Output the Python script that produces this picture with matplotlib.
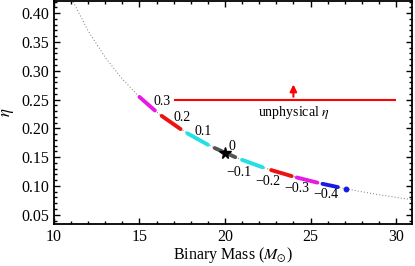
import matplotlib
matplotlib.use("Agg")
import matplotlib.pyplot as plt
from matplotlib.ticker import MultipleLocator

plt.rcParams['font.family'] = ['Liberation Serif', 'DejaVu Serif']
plt.rcParams['mathtext.fontset'] = 'stix'

# dotted reference curve
curve_mass = [11, 12, 13, 14, 15, 16, 17, 18, 19, 20, 21, 22, 23, 24, 25, 26, 27, 28, 29, 30, 31]
curve_eta = [0.4268, 0.3692, 0.3231, 0.2856, 0.2545, 0.2286, 0.2066, 0.1878, 0.1716, 0.1576,
             0.1453, 0.1344, 0.1248, 0.1163, 0.1086, 0.1018, 0.0956, 0.0899, 0.0848, 0.0802, 0.0759]

# coloured segments, one per spin value
spins = ['0.3', '0.2', '0.1', '0', '\u22120.1', '\u22120.2', '\u22120.3', '\u22120.4']
seg_mass = [(15.0, 15.9), (16.3, 17.4), (17.8, 19.0), (19.4, 20.6),
            (21.0, 22.2), (22.7, 23.9), (24.2, 25.4), (25.7, 26.6)]
seg_eta = [(0.2545, 0.2310), (0.2216, 0.1988), (0.1914, 0.1716), (0.1658, 0.1500),
           (0.1453, 0.1324), (0.1276, 0.1171), (0.1147, 0.1058), (0.1037, 0.0980)]
seg_colors = ['#e619e6', '#ee1111', '#22e0e6', '#555555',
              '#22e0e6', '#ee1111', '#e619e6', '#1a1ae6']
label_mass = [16.3, 17.5, 18.7, 20.4, 20.8, 22.5, 24.2, 25.9]
label_eta = [0.246, 0.219, 0.195, 0.168, 0.123, 0.107, 0.095, 0.086]

extra_dot = (27.1, 0.0950)
star = (20.0, 0.1576)

unphys_eta = 0.25
unphys_range = (17.0, 30.0)
arrow_mass = 24.0
arrow_top = 0.281

fig = plt.figure(figsize=(4.15, 2.66), dpi=100)
ax = fig.add_axes([0.130, 0.158, 0.863, 0.838])

ax.plot(curve_mass, curve_eta, color='#777777', ls=(0, (1, 2.2)), lw=0.7)

for (m0, m1), (e0, e1), c in zip(seg_mass, seg_eta, seg_colors):
    ax.plot([m0, m1], [e0, e1], color=c, lw=2.8, solid_capstyle='round')
ax.plot(*extra_dot, 'o', color='#1a1ae6', ms=3.2)
ax.plot(*star, marker='*', color='k', ms=8.5, mec='k')

for s, x, y in zip(spins, label_mass, label_eta):
    ax.text(x, y, s, fontsize=10, ha='center', va='center')

ax.hlines(unphys_eta, *unphys_range, color='red', lw=1.5)
ax.annotate('', xy=(arrow_mass, arrow_top), xytext=(arrow_mass, unphys_eta),
            arrowprops=dict(arrowstyle='-|>', color='red', lw=1.5, mutation_scale=10))
ax.text(arrow_mass, unphys_eta - 0.008, r'unphysical $\eta$', fontsize=10,
        ha='center', va='top')

ax.set_xlim(10, 30.94)
ax.set_ylim(0.034, 0.421)
ax.xaxis.set_major_locator(MultipleLocator(5))
ax.xaxis.set_minor_locator(MultipleLocator(1))
ax.yaxis.set_major_locator(MultipleLocator(0.05))
ax.yaxis.set_minor_locator(MultipleLocator(0.01))
ax.yaxis.set_major_formatter(lambda v, p: f'{v:.2f}')
ax.tick_params(which='both', direction='in', top=True, right=True, labelsize=11.5, width=1)
ax.tick_params(which='major', length=4)
ax.tick_params(which='minor', length=2)
for sp in ax.spines.values():
    sp.set_linewidth(1.3)

ax.set_xlabel(r'Binary Mass ($M_{\odot}$)', fontsize=11.5, labelpad=0)
ax.set_ylabel(r'$\eta$', fontsize=12, labelpad=4)

fig.savefig('out.png', dpi=100)
